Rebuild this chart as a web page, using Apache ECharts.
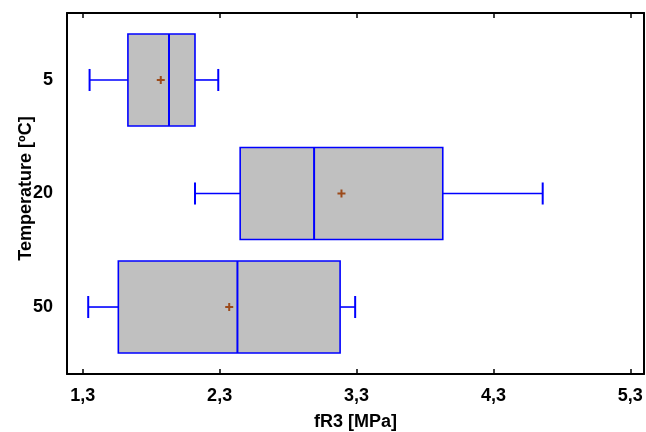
<!DOCTYPE html>
<html>
<head>
<meta charset="utf-8">
<script src="https://cdn.jsdelivr.net/npm/echarts@6/dist/echarts.min.js"></script>
<style>
  html, body { margin: 0; padding: 0; background: #fff; }
  #chart { width: 646px; height: 432px; }
</style>
</head>
<body>
<div id="chart"></div>
<script>
// Box-and-whisker summary of fR3 per test temperature
const categories = ['5', '20', '50'];
const whiskerLow = [1.35, 2.12, 1.34];
const q1 = [1.63, 2.45, 1.56];
const median = [1.93, 2.99, 2.43];
const q3 = [2.12, 3.93, 3.18];
const whiskerHigh = [2.29, 4.66, 3.29];
const means = [1.87, 3.19, 2.37];
const xTicks = [1.3, 2.3, 3.3, 4.3, 5.3];

const rows = categories.map((c, i) => [i, whiskerLow[i], q1[i], median[i], q3[i], whiskerHigh[i], means[i]]);

const BLUE = '#0000ff';
const FONT = '"Liberation Sans", Arial, sans-serif';

function renderBox(params, api) {
  const row = api.value(0);
  const lo = api.coord([api.value(1), row]);
  const a = api.coord([api.value(2), row]);
  const m = api.coord([api.value(3), row]);
  const b = api.coord([api.value(4), row]);
  const hi = api.coord([api.value(5), row]);
  const mu = api.coord([api.value(6), row]);
  const boxH = api.size([0, 0.81])[1];
  const capH = api.size([0, 0.194])[1];
  const y = a[1];
  const children = [
    { type: 'line', shape: { x1: lo[0], y1: y, x2: a[0], y2: y }, style: { stroke: BLUE, lineWidth: 1.6 } },
    { type: 'line', shape: { x1: b[0], y1: y, x2: hi[0], y2: y }, style: { stroke: BLUE, lineWidth: 1.6 } },
    { type: 'line', shape: { x1: lo[0], y1: y - capH / 2, x2: lo[0], y2: y + capH / 2 }, style: { stroke: BLUE, lineWidth: 2 } },
    { type: 'line', shape: { x1: hi[0], y1: y - capH / 2, x2: hi[0], y2: y + capH / 2 }, style: { stroke: BLUE, lineWidth: 2 } },
    { type: 'rect', shape: { x: a[0], y: y - boxH / 2, width: b[0] - a[0], height: boxH },
      style: { fill: '#c0c0c0', stroke: BLUE, lineWidth: 1.6 } },
    { type: 'line', shape: { x1: m[0], y1: y - boxH / 2, x2: m[0], y2: y + boxH / 2 }, style: { stroke: BLUE, lineWidth: 2 } },
    { type: 'line', shape: { x1: mu[0] - 4, y1: y, x2: mu[0] + 4, y2: y }, style: { stroke: '#9c4a1a', lineWidth: 2 } },
    { type: 'line', shape: { x1: mu[0], y1: y - 4, x2: mu[0], y2: y + 4 }, style: { stroke: '#9c4a1a', lineWidth: 2 } }
  ];
  return { type: 'group', children: children };
}

const chart = echarts.init(document.getElementById('chart'), null, { renderer: 'canvas' });
chart.setOption({
  animation: false,
  backgroundColor: '#fff',
  grid: { left: 67, right: 2, top: 13, bottom: 58, containLabel: false, outerBoundsMode: 'none' },
  xAxis: [
    {
      type: 'value', position: 'bottom', min: 1.185, max: 5.40,
      name: 'fR3 [MPa]', nameLocation: 'middle', nameGap: 39,
      nameTextStyle: { fontFamily: FONT, fontWeight: 'bold', fontSize: 18, color: '#000' },
      axisLine: { show: true, onZero: false, lineStyle: { color: '#000', width: 2 } },
      axisTick: { show: true, inside: true, length: 5, customValues: xTicks, lineStyle: { color: '#000', width: 1.5 } },
      axisLabel: { show: true, customValues: xTicks, margin: 13,
        formatter: v => v.toFixed(1).replace('.', ','),
        fontFamily: FONT, fontWeight: 'bold', fontSize: 18, color: '#000' },
      splitLine: { show: false }
    },
    {
      type: 'value', position: 'top', min: 1.185, max: 5.40,
      axisLine: { show: true, onZero: false, lineStyle: { color: '#000', width: 2 } },
      axisTick: { show: true, inside: true, length: 5, customValues: xTicks, lineStyle: { color: '#000', width: 1.5 } },
      axisLabel: { show: false },
      splitLine: { show: false }
    }
  ],
  yAxis: [
    {
      type: 'value', position: 'left', inverse: true, min: -0.59, max: 2.59,
      name: 'Temperature [ºC]', nameLocation: 'middle', nameGap: 32, nameRotate: 90,
      nameMoveOverlap: false,
      nameTextStyle: { fontFamily: FONT, fontWeight: 'bold', fontSize: 18, color: '#000', padding: [0, 0, 0, 10] },
      axisLine: { show: true, onZero: false, lineStyle: { color: '#000', width: 2 } },
      axisTick: { show: false },
      axisLabel: { show: true, customValues: [0, 1, 2], margin: 14,
        formatter: v => categories[Math.round(v)],
        fontFamily: FONT, fontWeight: 'bold', fontSize: 18, color: '#000' },
      splitLine: { show: false }
    },
    {
      type: 'value', position: 'right', inverse: true, min: -0.59, max: 2.59,
      axisLine: { show: true, onZero: false, lineStyle: { color: '#000', width: 2 } },
      axisTick: { show: false },
      axisLabel: { show: false },
      splitLine: { show: false }
    }
  ],
  series: [{
    type: 'custom',
    xAxisIndex: 0,
    yAxisIndex: 0,
    renderItem: renderBox,
    encode: { x: [1, 2, 3, 4, 5, 6], y: 0 },
    data: rows,
    clip: false
  }]
});
</script>
</body>
</html>
